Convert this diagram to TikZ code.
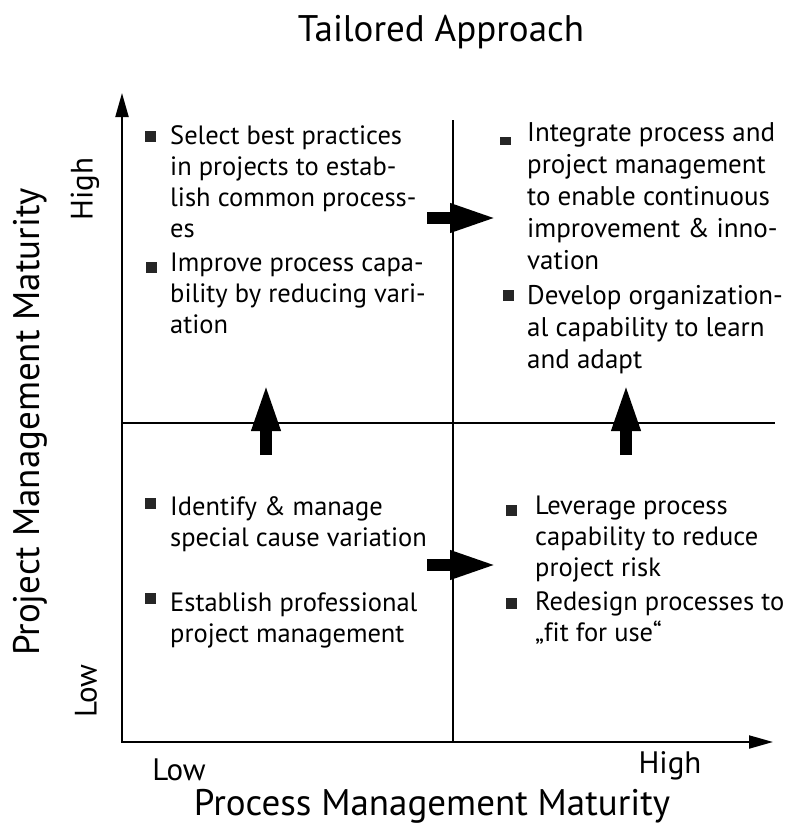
\documentclass[tikz,border=0pt]{standalone}
\usepackage{fontspec}
\setmainfont{PT Sans}[Ligatures=NoCommon]
\usetikzlibrary{arrows.meta, positioning}

\tikzset{
  axis/.style={line width=2pt, -{Triangle[width=13pt,length=24pt]}},
  grid line/.style={line width=2pt},
  block arrow/.style={line width=11.5pt, -{Triangle[width=26pt,length=48pt]}},
  bullet/.style={fill=black!85, minimum size=11pt, inner sep=0pt},
  item/.style={anchor=north west, inner sep=0pt, align=left,
    font=\fontsize{26.5}{31}\selectfont},
  item wide/.style={item, font=\fontsize{27}{32}\selectfont},
  label/.style={font=\fontsize{31}{34}\selectfont},
  big label/.style={font=\fontsize{37}{40}\selectfont}
}

\begin{document}
\begin{tikzpicture}[x=1pt, y=-1pt]
  \useasboundingbox (0,0) rectangle (789,830);

  % axes and quadrant lines
  \coordinate (origin) at (122,742);
  \coordinate (ytip) at (122,93);
  \coordinate (xtip) at (773,742);
  \draw[axis] (origin) -- (ytip);
  \draw[axis] ([xshift=-1pt]origin) -- (xtip);
  \coordinate (vtop) at (453,120);
  \coordinate (vbot) at (453,742);
  \coordinate (hleft) at (122,423);
  \coordinate (hright) at (775,423);
  \draw[grid line] (vtop) -- (vbot);
  \draw[grid line] (hleft) -- (hright);

  % block arrows
  \coordinate (ta) at (427,218);
  \coordinate (tb) at (498,218);
  \coordinate (ba) at (427,565);
  \coordinate (bb) at (498,565);
  \coordinate (la) at (266,455);
  \coordinate (lb) at (266,383);
  \coordinate (ra) at (626,455);
  \coordinate (rb) at (626,383);
  \draw[block arrow] (ta) -- (tb);
  \draw[block arrow] (ba) -- (bb);
  \draw[block arrow] (la) -- (lb);
  \draw[block arrow] (ra) -- (rb);

  % titles and axis labels
  \node[big label] (title) at (441,32) {Tailored Approach};
  \node[big label] (xlabel) at (432,806) {Process Management Maturity};
  \node[big label, rotate=90] (ylabel) at (30,422) {Project Management Maturity};
  \node[label] (xlow) at (179,770) {Low};
  \node[label] (xhigh) at (670,766) {High};
  \node[label, rotate=90] (ylow) at (86,691) {Low};
  \node[label, rotate=90] (yhigh) at (85,189) {High};

  % top left
  \node[item] (tl1) at (170,125) {Select best practices\\in projects to estab-\\lish common process-\\es};
  \node[item] (tl2) at (170,253) {Improve process capa-\\bility by reducing vari-\\ation};
  \node[bullet] (tlb1) at (150.5,136) {};
  \node[bullet] (tlb2) at (151,267) {};

  % top right
  \node[item wide] (tr1) at (527,122) {Integrate process and\\project management\\to enable continuous\\improvement \& inno-\\vation};
  \node[item wide] (tr2) at (527,285) {Develop organization-\\al capability to learn\\and adapt};
  \node[bullet, minimum height=8pt] (trb1) at (505,141) {};
  \node[bullet] (trb2) at (508,295) {};

  % bottom left
  \node[item] (bl1) at (170,496) {Identify \& manage\\special cause variation};
  \node[item] (bl2) at (170,593) {Establish professional\\project management};
  \node[bullet] (blb1) at (150,503) {};
  \node[bullet] (blb2) at (150,598) {};

  % bottom right
  \node[item] (br1) at (535,496) {Leverage process\\capability to reduce\\project risk};
  \node[item] (br2) at (535,592) {Redesign processes to\\„fit for use“};
  \node[bullet] (brb1) at (511,510) {};
  \node[bullet] (brb2) at (511,603) {};
\end{tikzpicture}
\end{document}
